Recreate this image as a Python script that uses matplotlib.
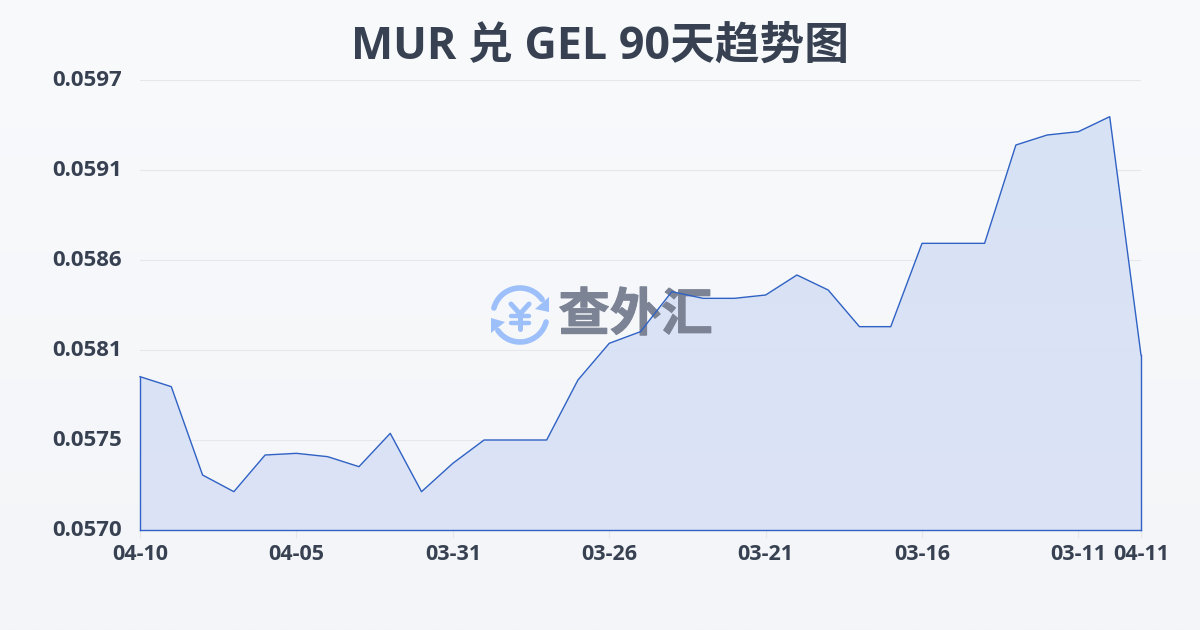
import numpy as np
import matplotlib
matplotlib.use("Agg")
import matplotlib.pyplot as plt
import matplotlib.patheffects as pe
from matplotlib.patches import Arc, Polygon
from matplotlib.colors import LinearSegmentedColormap
from matplotlib.transforms import ScaledTranslation

LATIN = ['Open Sans', 'Noto Sans CJK SC', 'DejaVu Sans']
plt.rcParams['font.family'] = LATIN

TITLE = "MUR 兑 GEL 90天趋势图"
WATERMARK = "查外汇"
rates = [0.05792, 0.05786, 0.05733, 0.05723, 0.05745, 0.05746, 0.05744, 0.05738,
         0.05758, 0.05723, 0.05740, 0.05754, 0.05754, 0.05754, 0.05790, 0.05812,
         0.05819, 0.05843, 0.05839, 0.05839, 0.05841, 0.05853, 0.05844, 0.05822,
         0.05822, 0.05872, 0.05872, 0.05872, 0.05931, 0.05937, 0.05939, 0.05948,
         0.05805]
x_tick_pos = [0, 5, 10, 15, 20, 25, 30, 32]
x_tick_labels = ["04-10", "04-05", "03-31", "03-26", "03-21", "03-16", "03-11", "04-11"]
y_ticks = [0.0570, 0.05754, 0.05808, 0.05862, 0.05916, 0.0597]
y_tick_labels = ["0.0570", "0.0575", "0.0581", "0.0586", "0.0591", "0.0597"]

W, H = 1200, 630
fig = plt.figure(figsize=(W / 100, H / 100), dpi=100)

# background gradient
bg = fig.add_axes([0, 0, 1, 1], zorder=0)
bg.axis("off")
bg_cmap = LinearSegmentedColormap.from_list("bg", ["#f8fafc", "#f3f5f8"])
bg.imshow(np.linspace(0, 1, 256).reshape(-1, 1), aspect="auto", cmap=bg_cmap, extent=[0, 1, 0, 1], origin="upper")

L, R, T, B = 140, 1141, 80, 530
rect = [L / W, 1 - B / H, (R - L) / W, (B - T) / H]
ax = fig.add_axes(rect, zorder=2)
ax.patch.set_alpha(0)
x = np.arange(len(rates))

for s in ["top", "right", "left", "bottom"]:
    ax.spines[s].set_visible(False)

ax.set_yticks(y_ticks)
ax.set_yticklabels(y_tick_labels, fontsize=16, fontweight="bold", color="#374151")
ax.tick_params(axis="y", length=0, pad=13)
shift = ScaledTranslation(0, 1.5 / 100, fig.dpi_scale_trans)
for lab in ax.get_yticklabels():
    lab.set_transform(lab.get_transform() + shift)
ax.set_xticks(x_tick_pos)
ax.set_xticklabels(x_tick_labels, fontsize=15.5, fontweight="bold", color="#374151")
ax.tick_params(axis="x", length=6, width=0.8, color="#e5e7eb", pad=4)
ax.grid(axis="y", color="#e5e7eb", linewidth=0.8)
ax.set_axisbelow(True)

# fill with soft gradient clipped to the area under the line
poly = Polygon(list(zip(x, rates)) + [(32, 0.0570), (0, 0.0570)], closed=True, transform=ax.transData, facecolor="none", edgecolor="none")
ax.add_patch(poly)
fill_cmap = LinearSegmentedColormap.from_list("fill", ["#d5e1f6", "#dbe2f5"])
im = ax.imshow(np.linspace(0, 1, 256).reshape(-1, 1), aspect="auto", cmap=fill_cmap, alpha=0.93,
               extent=[0, 32, 0.0570, 0.0597], origin="upper", zorder=1.5)
im.set_clip_path(poly)
ax.set_xlim(0, 32)
ax.set_ylim(0.0570, 0.0597)

# watermark in pixel coordinates, above the fill
wm = fig.add_axes([0, 0, 1, 1], zorder=3)
wm.axis("off")
wm.set_xlim(0, W)
wm.set_ylim(H, 0)
wc = "#9dbffa"
wm.add_patch(Arc((520, 315), 54, 54, theta1=195, theta2=325, color=wc, lw=4, capstyle="round"))
wm.add_patch(Arc((520, 315), 54, 54, theta1=15, theta2=145, color=wc, lw=4, capstyle="round"))
wm.add_patch(Polygon([(549, 297), (549, 312), (535, 309)], closed=True, color=wc, lw=0))
wm.add_patch(Polygon([(491, 333), (491, 318), (505, 322)], closed=True, color=wc, lw=0))
wm.plot([511, 520, 529], [304, 314, 304], color=wc, lw=3.6, solid_capstyle="round", solid_joinstyle="round")
wm.plot([520, 520], [314, 329], color=wc, lw=3.6, solid_capstyle="round")
wm.plot([511, 529], [316, 316], color=wc, lw=3.2, solid_capstyle="round")
wm.plot([511, 529], [323, 323], color=wc, lw=3.2, solid_capstyle="round")
wm.text(635.5, 315, WATERMARK, ha="center", va="center", fontsize=37, fontweight="bold", color="#7c8394",
        family=['Noto Sans CJK SC'],
        path_effects=[pe.withStroke(linewidth=0.8, foreground="#7c8394")])

# outline above the watermark
lax = fig.add_axes(rect, zorder=4)
lax.axis("off")
lax.set_xlim(0, 32)
lax.set_ylim(0.0570, 0.0597)
lc = "#2f62c4"
lax.plot(x, rates, color=lc, linewidth=1.0, clip_on=False)
lax.plot([0, 0], [0.0570, rates[0]], color=lc, linewidth=1.0, clip_on=False)
lax.plot([32, 32], [0.0570, rates[-1]], color=lc, linewidth=1.0, clip_on=False)
lax.plot([0, 32], [0.0570, 0.0570], color=lc, linewidth=1.0, clip_on=False)

# title
fig.text(600 / W, 1 - 47 / H, TITLE, ha="center", va="center", fontsize=32.2, fontweight="bold", color="#374151", zorder=5)

fig.savefig("out.png", dpi=100)
